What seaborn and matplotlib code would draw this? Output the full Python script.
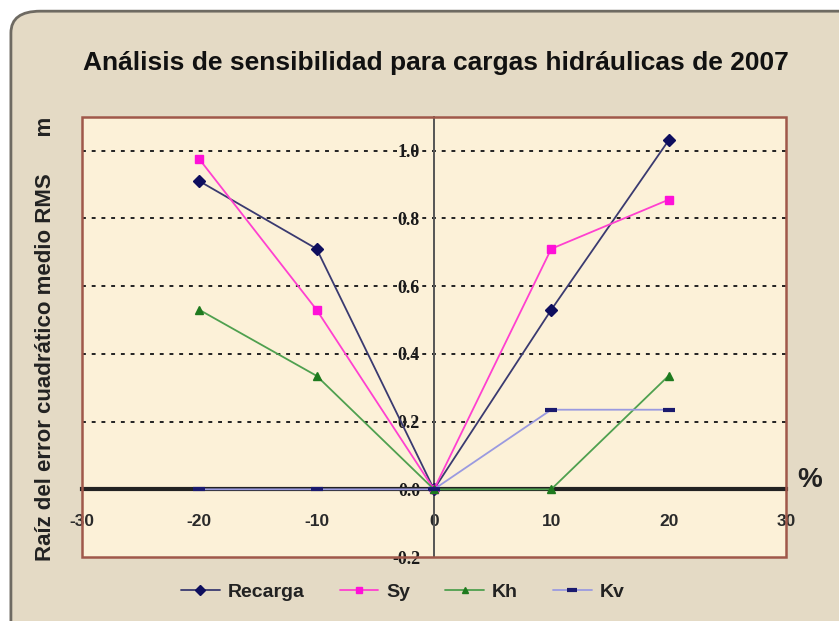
import pandas as pd
import numpy as np
import seaborn as sns
import matplotlib.pyplot as plt
from matplotlib.patches import FancyBboxPatch, Rectangle

# data
pct = [-20, -10, 0, 10, 20]
recarga = [0.91, 0.71, 0.0, 0.53, 1.03]
sy = [0.975, 0.53, 0.0, 0.71, 0.855]
kh = [0.53, 0.335, 0.0, 0.0, 0.335]
kv = [0.0, 0.0, 0.0, 0.235, 0.235]
series = ["Recarga", "Sy", "Kh", "Kv"]

df = pd.DataFrame({
    "pct": pct * 4,
    "rms": recarga + sy + kh + kv,
    "serie": sum([[s] * len(pct) for s in series], []),
})

sns.set_style("white")
plt.rcParams["font.family"] = ["Liberation Sans", "DejaVu Sans"]
plt.rcParams["axes.unicode_minus"] = False

fig = plt.figure(figsize=(8.39, 6.21), dpi=100)
fig.patch.set_facecolor("white")
# beige panel with rounded corner, running off the bottom right
panel = FancyBboxPatch((0.013, -0.05), 1.1, 1.032, boxstyle="round,pad=0,rounding_size=0.035",
                       transform=fig.transFigure, facecolor="#E4DAC5", edgecolor="#6E6A62",
                       linewidth=2.0, zorder=-1)
fig.patches.append(panel)

ax = fig.add_axes([0.0977, 0.103, 0.839, 0.709])
ax.set_facecolor("#FCF1D8")

line_col = {"Recarga": "#3A3A70", "Sy": "#FF40D0", "Kh": "#4FA04F", "Kv": "#9A9AE0"}
mark_col = {"Recarga": "#0E0E5E", "Sy": "#FF10D8", "Kh": "#1E7A1E", "Kv": "#1A1A6E"}
markers = {"Recarga": "D", "Sy": "s", "Kh": "^", "Kv": "_"}
for s in series:
    sub = df[df["serie"] == s]
    sns.lineplot(data=sub, x="pct", y="rms", color=line_col[s], marker=markers[s],
                 markersize=9 if s == "Kv" else 6, markerfacecolor=mark_col[s],
                 markeredgecolor=mark_col[s], markeredgewidth=3 if s == "Kv" else 1,
                 linewidth=1.3, label=s, ax=ax, zorder=4, clip_on=False)

ax.set_xlim(-30, 30)
ax.set_ylim(-0.2, 1.1)
ax.set_xticks([-30, -20, -10, 0, 10, 20, 30])
ax.set_yticks([-0.2, 0.0, 0.2, 0.4, 0.6, 0.8, 1.0])
ax.set_yticklabels(["-0.2", "0.0", "0.2", "0.4", "0.6", "0.8", "1.0"])
for y in [0.2, 0.4, 0.6, 0.8, 1.0]:
    ax.axhline(y, color="#222222", linestyle=(0, (2, 3)), linewidth=1.4, zorder=1)

# axes crossing at the origin
ax.spines["left"].set_position(("data", 0))
ax.spines["bottom"].set_position(("data", 0))
ax.spines["left"].set_color("#555555")
ax.spines["left"].set_linewidth(1.4)
ax.spines["bottom"].set_color("#222222")
ax.spines["bottom"].set_linewidth(3)
ax.spines["top"].set_visible(False)
ax.spines["right"].set_visible(False)
ax.add_patch(Rectangle((0, 0), 1, 1, transform=ax.transAxes, fill=False,
                       edgecolor="#A0584A", linewidth=1.8, zorder=5, clip_on=False))

ax.tick_params(axis="x", direction="inout", length=7, width=1.5, pad=14, labelsize=12.5)
ax.tick_params(axis="y", direction="out", length=6, width=1.4, pad=4, labelsize=13)
for t in ax.get_xticklabels():
    t.set_fontweight("bold")
    t.set_color("#2A2A2A")
for t in ax.get_yticklabels():
    t.set_fontweight("bold")
    t.set_family(["Liberation Serif", "DejaVu Serif"])
    t.set_color("#1A1A1A")

ax.set_xlabel("")
ax.set_ylabel("")
ax.text(1.034, 0.175, "%", transform=ax.transAxes, fontsize=20, fontweight="bold",
        ha="center", va="center", color="#222222")

fig.text(0.054, 0.455, "Raíz del error cuadrático medio RMS      m", rotation=90,
         ha="center", va="center", fontsize=16, fontweight="bold", color="#222222")
fig.suptitle("Análisis de sensibilidad para cargas hidráulicas de 2007", x=0.52, y=0.918,
             fontsize=19, fontweight="bold", color="#111111")

handles, labels = ax.get_legend_handles_labels()
ax.legend_.remove()
leg = fig.legend(handles, labels, loc="center", bbox_to_anchor=(0.48, 0.047), ncol=4,
                 frameon=False, fontsize=14, handlelength=2.0, handletextpad=0.4,
                 columnspacing=1.8, markerscale=0.8)
for t in leg.get_texts():
    t.set_fontweight("bold")
    t.set_color("#222222")

plt.savefig("out.png", dpi=100, facecolor=fig.get_facecolor())
